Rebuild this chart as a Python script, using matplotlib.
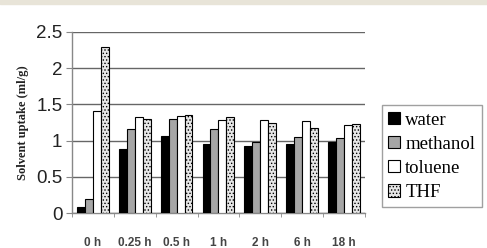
import numpy as np
import matplotlib.pyplot as plt
import matplotlib.patches as mpatches

# time points and solvent uptake (ml/g)
times = ['0 h', '0.25 h', '0.5 h', '1 h', '2 h', '6 h', '18 h']
water = [0.09, 0.89, 1.06, 0.95, 0.92, 0.95, 0.975]
methanol = [0.19, 1.155, 1.30, 1.165, 0.98, 1.05, 1.03]
toluene = [1.41, 1.32, 1.34, 1.29, 1.28, 1.27, 1.215]
thf = [2.29, 1.30, 1.35, 1.33, 1.24, 1.18, 1.225]

series = [('water', water, 'black', ''),
          ('methanol', methanol, '#a6a6a6', ''),
          ('toluene', toluene, 'white', ''),
          ('THF', thf, '#e6e6e6', '.....')]

plt.rcParams['hatch.color'] = '#8a8a8a'
plt.rcParams['hatch.linewidth'] = 0.6

fig = plt.figure(figsize=(4.87, 2.48), dpi=100)
ax = fig.add_axes([0.148, 0.141, 0.601, 0.730])

x = np.arange(len(times))
w = 0.19
for i, (name, vals, col, hatch) in enumerate(series):
    ax.bar(x + (i - 1.5) * w, vals, w, color=col, edgecolor='black',
           linewidth=0.8, hatch=hatch, label=name, zorder=3)

ax.set_xlim(-0.5, len(times) - 0.5)
ax.set_ylim(0, 2.5)
ax.set_yticks([0, 0.5, 1, 1.5, 2, 2.5])
ax.set_yticklabels(['0', '0.5', '1', '1.5', '2', '2.5'],
                   fontsize=13.5, family='Liberation Sans', color='#222222')
ax.yaxis.grid(True, color='#666666', linewidth=1.0, zorder=0)

ax.set_xticks(x)
ax.set_xticklabels(times, fontsize=8.5, family='Liberation Sans',
                   fontweight='bold', color='#444444')
ax.tick_params(axis='x', which='major', length=0, pad=17)
ax.set_xticks(np.arange(-0.5, len(times), 1), minor=True)
ax.tick_params(axis='x', which='minor', length=3, color='#888888')
ax.tick_params(axis='y', length=4, color='#888888', pad=3)

for s in ['top', 'right']:
    ax.spines[s].set_visible(False)
ax.spines['left'].set_color('#888888')
ax.spines['bottom'].set_color('#888888')
ax.spines['left'].set_linewidth(1.0)
ax.spines['bottom'].set_linewidth(1.0)

ax.set_ylabel('Solvent uptake (ml/g)', family='Liberation Serif',
              fontweight='bold', fontsize=9, labelpad=5, color='#222222')

leg = ax.legend(loc='upper left', bbox_to_anchor=(1.058, 0.597),
                prop={'family': 'Liberation Serif', 'size': 13.5},
                frameon=True, fancybox=False, edgecolor='#888888',
                handlelength=0.65, handleheight=0.65, handletextpad=0.25,
                labelspacing=0.38, borderpad=0.35, borderaxespad=0)
leg.get_frame().set_linewidth(1.0)

fig.patches.append(mpatches.Rectangle((0, 0.985), 1, 0.015, transform=fig.transFigure,
                                      color='#e8e4d8', zorder=0))

fig.savefig('out.png', dpi=100)
